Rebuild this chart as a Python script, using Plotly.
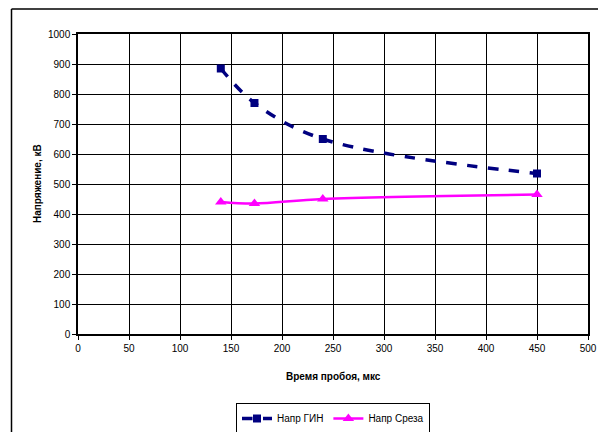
import plotly.graph_objects as go

time_us = [140, 173, 240, 450]
u_gin = [885, 770, 650, 535]
u_srez = [440, 435, 450, 465]
name_gin = "Напр ГИН"
name_srez = "Напр Среза"

# page body has an 8px default margin; work in screen pixels and shift
OFF = 8
W, H = 606 - OFF, 432 - OFF
# target plot area on screen: x 78..588, y 34..334
L, T = 78 - OFF, 34 - OFF
R = W - (588 - OFF)
B = H - (334 - OFF)
pw, ph = W - L - R, H - T - B

def px_x(p):  # screen px -> paper
    return (p - OFF - L) / pw

def px_y(p):
    return (T + ph - (p - OFF)) / ph

fig = go.Figure()
fig.add_trace(go.Scatter(
    x=time_us, y=u_gin, name=name_gin, mode="lines+markers",
    line=dict(color="#000080", width=3.5, dash="dash", shape="spline", smoothing=1),
    marker=dict(symbol="square", size=8, color="#000080"),
))
fig.add_trace(go.Scatter(
    x=time_us, y=u_srez, name=name_srez, mode="lines+markers",
    line=dict(color="#FF00FF", width=2.5, shape="spline", smoothing=1),
    marker=dict(symbol="triangle-up", size=10, color="#FF00FF"),
))

axis_common = dict(
    showgrid=True, gridcolor="black", gridwidth=1,
    showline=True, linecolor="black", linewidth=1.5, mirror=True,
    ticks="outside", ticklen=4, tickcolor="black",
    tickfont=dict(family="Liberation Sans, Arial", size=10, color="black"),
    zeroline=False, automargin=False,
)
fig.update_xaxes(range=[0, 500], dtick=50, tick0=0, **axis_common)
fig.update_yaxes(range=[0, 1000], dtick=100, tick0=0, **axis_common)

frame = dict(color="black", width=1.5)
fig.update_layout(
    width=W, height=H,
    margin=dict(l=L, r=R, t=T, b=B, autoexpand=False),
    paper_bgcolor="white", plot_bgcolor="white",
    font=dict(family="Liberation Sans, Arial", color="black"),
    legend=dict(
        orientation="h", x=px_x(333), xanchor="center", y=px_y(403), yanchor="top",
        bordercolor="black", borderwidth=1, bgcolor="white",
        font=dict(size=10), tracegroupgap=0,
    ),
    showlegend=True,
    annotations=[
        dict(text="<b>Время пробоя, мкс</b>", xref="paper", yref="paper",
             x=px_x(333), y=px_y(376), xanchor="center", yanchor="middle",
             showarrow=False, font=dict(size=10)),
        dict(text="<b>Напряжение, кВ</b>", xref="paper", yref="paper",
             x=px_x(37), y=px_y(184), xanchor="center", yanchor="middle",
             textangle=-90, showarrow=False, font=dict(size=10)),
    ],
    shapes=[
        dict(type="line", xref="paper", yref="paper",
             x0=px_x(11.5), x1=px_x(606), y0=px_y(9), y1=px_y(9), line=frame, layer="below"),
        dict(type="line", xref="paper", yref="paper",
             x0=px_x(11.5), x1=px_x(11.5), y0=px_y(9), y1=px_y(432), line=frame, layer="below"),
    ],
)

fig.write_html("out.html")
